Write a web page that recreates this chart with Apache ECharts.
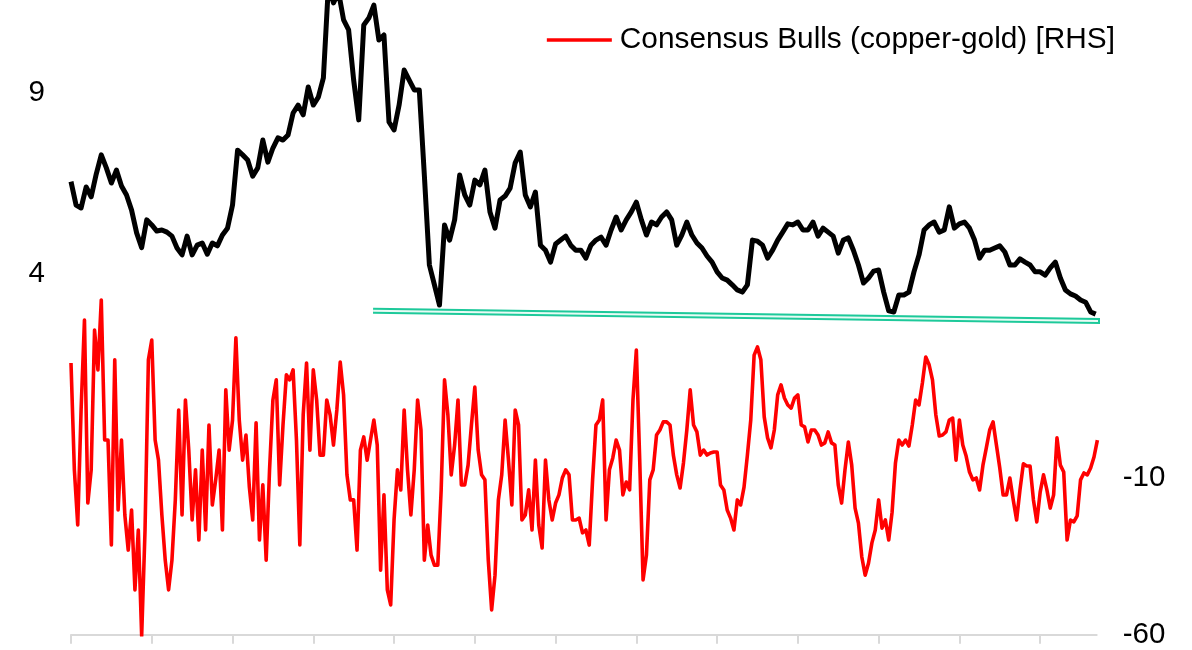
<!DOCTYPE html>
<html>
<head>
<meta charset="utf-8">
<script src="https://cdn.jsdelivr.net/npm/echarts@6/dist/echarts.min.js"></script>
<style>
html,body{margin:0;padding:0;background:#fff;}
#chart{width:1192px;height:650px;}
</style>
</head>
<body>
<div id="chart"></div>
<script>
// Copper-gold ratio [LHS], 16 samples per year
const copperGold = [
6.55,5.90,5.82,6.40,6.13,6.76,7.29,6.93,6.51,6.87,
6.43,6.18,5.76,5.13,4.72,5.49,5.35,5.18,5.21,5.15,
5.04,4.71,4.52,5.04,4.52,4.79,4.85,4.54,4.85,4.77,
5.07,5.26,5.90,7.42,7.29,7.15,6.70,6.93,7.70,7.09,
7.48,7.76,7.70,7.84,8.45,8.67,8.40,9.17,8.67,8.89,
9.42,12.0,11.5,11.8,11.03,10.75,9.36,8.26,10.89,11.08,
11.44,10.47,10.61,8.20,7.98,8.67,9.64,9.36,9.09,9.09,
6.73,4.24,3.69,3.13,5.35,4.93,5.49,6.73,6.18,5.90,
6.59,6.46,6.87,5.71,5.26,6.04,6.15,6.37,7.07,7.37,
6.18,5.85,6.26,4.79,4.65,4.32,4.82,4.93,5.04,4.79,
4.65,4.65,4.43,4.79,4.93,5.01,4.79,5.21,5.57,5.21,
5.49,5.71,5.98,5.49,5.07,5.43,5.35,5.57,5.71,5.49,
4.79,5.07,5.43,5.07,4.85,4.71,4.49,4.32,4.05,3.88,
3.82,3.69,3.55,3.49,3.69,4.93,4.90,4.79,4.43,4.65,
4.93,5.15,5.38,5.35,5.43,5.21,5.21,5.43,5.04,5.26,
5.15,5.04,4.57,4.93,4.99,4.65,4.24,3.74,3.88,4.07,
4.10,3.49,2.97,2.94,3.41,3.41,3.49,4.05,4.52,5.21,
5.35,5.43,5.15,5.21,5.85,5.26,5.38,5.43,5.26,4.93,
4.43,4.65,4.65,4.71,4.77,4.60,4.24,4.24,4.41,4.32,
4.24,4.05,4.05,3.96,4.16,4.32,3.88,3.55,3.44,3.38,
3.27,3.21,2.94,2.88
];
const copperGoldPerYear = 16;

// Consensus Bulls (copper-gold) [RHS], 24 samples per year
const consensusBulls = [
26.7,-7.4,-25.0,11.7,40.4,-18.0,-7.4,37.2,24.5,46.8,
2.1,2.1,-31.4,27.7,-20.2,2.1,-21.8,-33.0,-20.2,-45.7,
-26.6,-60.4,-26.6,27.7,34.0,2.1,-4.3,-21.8,-36.2,-45.7,
-36.2,-17.0,11.7,-21.8,14.9,-1.1,-23.4,-7.4,-29.8,-1.1,
-26.6,6.9,-18.6,-10.6,-1.1,-26.6,18.1,-1.1,8.5,34.7,
8.5,-4.3,3.7,-12.9,-23.4,7.6,-29.8,-12.2,-36.2,-7.4,
14.9,21.3,-12.2,6.9,22.9,21.3,24.5,2.1,-31.4,10.1,
26.7,-1.1,24.5,14.9,-2.7,-2.7,14.9,10.1,0.5,11.7,
27.0,16.5,-9.0,-17.0,-17.0,-33.0,-1.1,3.1,-4.3,2.1,
8.5,0.5,-39.4,-15.4,-45.7,-50.5,-23.4,-7.4,-13.8,11.7,
-7.4,-21.8,-7.4,14.9,5.3,-36.2,-25.0,-34.6,-37.8,-37.8,
-13.8,21.3,10.1,-9.0,0.5,14.9,-12.2,-12.2,-5.9,6.9,
19.0,-1.1,-9.0,-10.6,-36.2,-52.1,-41.0,-17.0,-9.0,8.5,
-4.3,-18.6,11.7,6.9,-23.4,-21.8,-13.8,-26.6,-4.3,-25.0,
-32.3,-4.3,-17.0,-23.4,-18.0,-15.4,-10.0,-7.4,-9.0,-23.4,
-23.4,-22.8,-27.5,-26.6,-31.4,-10.6,6.9,8.5,14.9,-23.4,
-7.4,-3.6,2.1,-1.1,-15.4,-11.3,-13.8,14.9,30.8,-4.3,
-42.5,-34.6,-10.6,-7.4,3.7,5.3,7.9,7.9,6.9,-2.7,
-9.0,-13.2,-5.2,5.3,18.1,6.9,4.7,-2.7,-1.1,-2.7,
-2.0,-1.7,-1.7,-12.2,-13.8,-20.2,-22.8,-26.6,-17.0,-18.6,
-12.9,-2.7,8.5,29.2,31.8,27.7,9.5,2.8,-0.4,5.3,
16.5,19.7,15.5,13.3,12.3,15.5,16.5,6.9,6.3,1.5,
5.3,5.3,3.7,0.5,1.2,4.7,1.2,0.5,-12.2,-18.0,
-7.4,1.5,-5.9,-19.6,-24.4,-35.2,-41.0,-37.1,-30.7,-26.6,
-17.0,-26.0,-23.4,-29.8,-20.9,-5.2,2.1,0.5,2.1,0.2,
6.9,14.9,13.3,20.3,28.6,26.1,21.3,10.1,3.4,3.7,
4.7,8.5,9.1,-4.3,8.5,0.5,-3.0,-8.1,-10.6,-10.0,
-13.8,-5.9,-0.4,5.3,7.9,0.5,-6.8,-15.4,-15.4,-10.0,
-17.0,-23.4,-13.8,-5.5,-6.2,-6.2,-17.0,-24.0,-14.5,-9.0,
-13.8,-19.6,-15.4,2.8,-5.9,-8.1,-29.8,-23.4,-24.0,-22.1,
-10.6,-8.4,-9.0,-6.8,-3.3,2.1
];
const consensusPerYear = 24;

// Support trend line drawn on the copper-gold ratio (years, LHS value)
const trendLine = [[3.74, 2.97], [12.94, 2.68]];

// Axis tick values
const yearTicks = [0,1,2,3,4,5,6,7,8,9,10,11,12];
const leftLabels = [4, 9];
const rightLabels = [-60, -10];

const legendName = 'Consensus Bulls (copper-gold) [RHS]';
const font = "'Liberation Sans', Arial, sans-serif";

const blackData = copperGold.map((v, i) => [i / copperGoldPerYear, v]);
const redData = consensusBulls.map((v, i) => [i / consensusPerYear, v]);

const chart = echarts.init(document.getElementById('chart'), null, {renderer: 'canvas'});
chart.setOption({
  animation: false,
  backgroundColor: '#ffffff',
  textStyle: {fontFamily: font},
  legend: {
    data: [{name: legendName, icon: 'rect'}],
    right: 77,
    top: 25,
    padding: 0,
    itemWidth: 65,
    itemHeight: 3.5,
    itemStyle: {color: '#ff0000'},
    textStyle: {fontSize: 29.8, color: '#000', fontFamily: font, lineHeight: 30, padding: [0, 0, 0, 3]},
    selectedMode: false
  },
  grid: {left: 71, right: 95.3, top: 0, bottom: 15.3, containLabel: false, outerBoundsMode: 'none'},
  xAxis: {
    type: 'value',
    min: 0,
    max: 12.7,
    axisLine: {show: true, onZero: false, lineStyle: {color: '#d9d9d9', width: 2}},
    axisTick: {show: true, customValues: yearTicks, length: 9, lineStyle: {color: '#d9d9d9', width: 2}},
    axisLabel: {show: false},
    splitLine: {show: false}
  },
  yAxis: [
    {
      type: 'value',
      position: 'left',
      min: -6,
      max: 11.58,
      axisLine: {show: false},
      axisTick: {show: false},
      splitLine: {show: false},
      axisLabel: {customValues: leftLabels, margin: 26, fontSize: 29.5, color: '#000', fontFamily: font}
    },
    {
      type: 'value',
      position: 'right',
      min: -60,
      max: 142.5,
      axisLine: {show: false},
      axisTick: {show: false},
      splitLine: {show: false},
      axisLabel: {customValues: rightLabels, margin: 26, fontSize: 29.5, color: '#000', fontFamily: font}
    }
  ],
  series: [
    {
      name: 'Copper-gold ratio [LHS]',
      type: 'line',
      yAxisIndex: 0,
      data: blackData,
      symbol: 'none',
      lineStyle: {color: '#000000', width: 5, join: 'round'},
      z: 3
    },
    {
      name: legendName,
      type: 'line',
      yAxisIndex: 1,
      data: redData,
      symbol: 'none',
      itemStyle: {color: '#ff0000'},
      lineStyle: {color: '#ff0000', width: 3.6, join: 'round'},
      z: 2
    },
    {
      name: 'trend',
      type: 'line',
      yAxisIndex: 0,
      data: trendLine,
      symbol: 'none',
      clip: false,
      silent: true,
      lineStyle: {color: '#1dc99a', width: 6},
      z: 4
    },
    {
      name: 'trend-gap',
      type: 'line',
      yAxisIndex: 0,
      data: trendLine,
      symbol: 'none',
      clip: false,
      silent: true,
      lineStyle: {color: '#e9fbf5', width: 2},
      z: 5
    }
  ]
});
</script>
</body>
</html>
